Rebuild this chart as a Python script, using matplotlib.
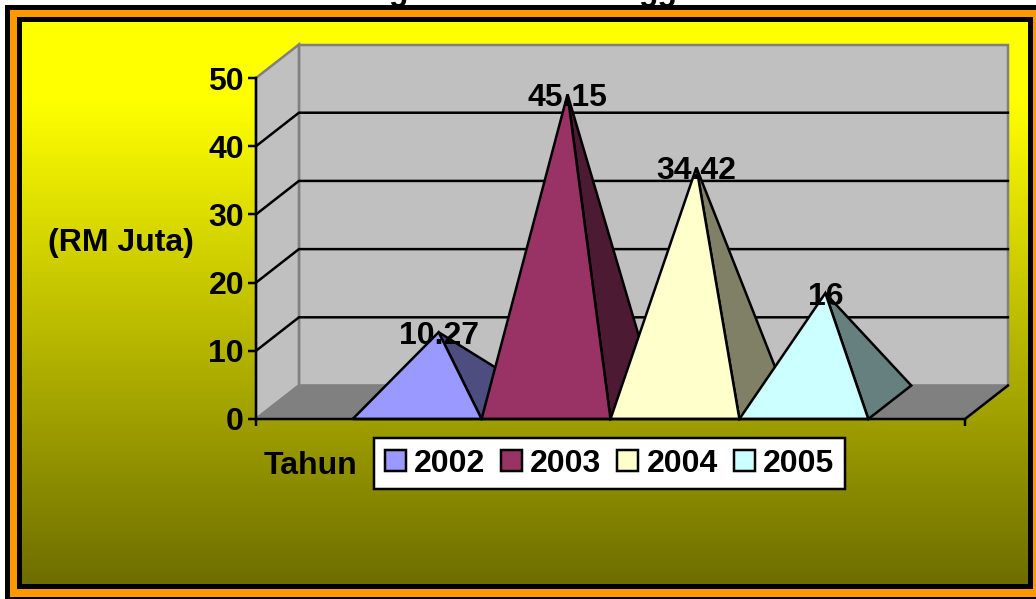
import numpy as np
import matplotlib
matplotlib.use("Agg")
import matplotlib.pyplot as plt
from matplotlib.colors import LinearSegmentedColormap
from matplotlib.patches import Patch, Polygon, Rectangle

years = ["2002", "2003", "2004", "2005"]
values = [10.27, 45.15, 34.42, 16]
value_labels = ["10.27", "45.15", "34.42", "16"]
front_colors = ["#9999FF", "#993366", "#FFFFCC", "#CCFFFF"]
side_colors = ["#4D4D80", "#4D1A33", "#808066", "#668080"]
y_ticks = [0, 10, 20, 30, 40, 50]

W, H = 1036, 599
PX = 1 / 100 * 72  # one pixel in points
FS = 32 * PX
LW = 2.5 * PX
DX, DY = 0.333, 4.91  # 3D depth in data units
XMIN, XMAX, YMAX = -1.25, 4.25, 50

plt.rcParams["font.family"] = ["Liberation Sans", "DejaVu Sans"]
plt.rcParams["font.weight"] = "bold"
fig = plt.figure(figsize=(W / 100, H / 100), dpi=100, facecolor="white")

# background: frame, gradient
bg = fig.add_axes([0, 0, 1, 1], zorder=0)
bg.set_xlim(0, W)
bg.set_ylim(H, 0)
bg.axis("off")
cmap = LinearSegmentedColormap.from_list(
    "bg", [(0, "#FFFF00"), (80 / 584, "#FFFF00"), (1, "#6E6E00")])
grad = np.linspace(0, 1, 584)[:, None]
bg.imshow(grad, cmap=cmap, extent=(22, 1028, 584, 22), aspect="auto", zorder=1)
bg.set_xlim(0, W)
bg.set_ylim(H, 0)
bg.text(398, 0, "g", fontsize=FS, fontweight="bold", ha="center", va="baseline", zorder=0)
bg.text(658, 0, "gg", fontsize=FS, fontweight="bold", ha="center", va="baseline", zorder=0)
for (x0, y0, x1, y1, c) in [(5, 5, 1040, 602, "black"), (10, 10, 1040, 597, "#FF9900"),
                            (17, 17, 1033, 589, "black")]:
    bg.add_patch(Rectangle((x0, y0), x1 - x0, y1 - y0, fc=c, ec="none", zorder=0.5))

# plot
ax = fig.add_axes([256 / W, (H - 419) / H, 709 / W, 341 / H], zorder=1)
ax.patch.set_visible(False)
ax.set_xlim(XMIN, XMAX)
ax.set_ylim(0, YMAX)
for s in ("top", "right"):
    ax.spines[s].set_visible(False)
for s in ("left", "bottom"):
    ax.spines[s].set_linewidth(LW)
    ax.spines[s].set_zorder(20)

wall_kw = dict(clip_on=False, ec="#808080", lw=LW, joinstyle="miter")
ax.add_patch(Polygon([(XMIN + DX, DY), (XMAX + DX, DY), (XMAX + DX, YMAX + DY), (XMIN + DX, YMAX + DY)],
                     fc="#C0C0C0", zorder=1, **wall_kw))
ax.add_patch(Polygon([(XMIN, 0), (XMIN + DX, DY), (XMIN + DX, YMAX + DY), (XMIN, YMAX)],
                     fc="#C0C0C0", zorder=1, **wall_kw))
ax.add_patch(Polygon([(XMIN, 0), (XMAX, 0), (XMAX + DX, DY), (XMIN + DX, DY)],
                     fc="#808080", zorder=1, **wall_kw))
ax.plot([XMAX, XMAX + DX], [0, DY], color="black", lw=LW, clip_on=False, zorder=2)
for t in y_ticks[1:-1]:
    ax.plot([XMIN, XMIN + DX, XMAX + DX], [t, t + DY, t + DY], color="black", lw=LW,
            clip_on=False, zorder=2, solid_joinstyle="miter")

for i, (v, lab) in enumerate(zip(values, value_labels)):
    left, right = i - 0.5, i + 0.5
    apex = (i + DX / 2, v + DY / 2)
    z = 5 + i
    ax.add_patch(Polygon([(right, 0), (right + DX, DY), apex], fc=side_colors[i], ec="black",
                         lw=LW, clip_on=False, zorder=z, joinstyle="miter"))
    ax.add_patch(Polygon([(left, 0), (right, 0), apex], fc=front_colors[i], ec="black",
                         lw=LW, clip_on=False, zorder=z + 0.1, joinstyle="miter"))
    ax.text(apex[0], apex[1], lab, fontsize=FS, fontweight="bold", ha="center",
            va="center_baseline", zorder=15, color="black")

ax.set_yticks(y_ticks)
ax.set_xticks([XMIN, XMAX])
ax.set_xticklabels([])
ax.tick_params(axis="y", length=8 * PX, width=LW, labelsize=FS, pad=4 * PX)
ax.tick_params(axis="x", length=7 * PX, width=LW)
for lab in ax.get_yticklabels():
    lab.set_fontweight("bold")
    lab.set_va("center_baseline")

ax.set_ylabel("(RM Juta)", fontsize=FS, fontweight="bold", rotation=0, ha="center", va="center_baseline")
ax.yaxis.set_label_coords((121 - 256) / 709, (419 - 240) / 341)
ax.set_xlabel("Tahun", fontsize=FS, fontweight="bold", ha="center", va="center_baseline")
ax.xaxis.set_label_coords((310 - 256) / 709, (419 - 463) / 341)

handles = [Patch(fc=c, ec="black", lw=LW, label=y) for c, y in zip(front_colors, years)]
leg = fig.legend(handles=handles, ncol=4, loc="upper left",
                 bbox_to_anchor=(374 / W, 1 - 438 / H), borderaxespad=0,
                 prop=dict(family="Liberation Sans", weight="bold", size=FS),
                 handlelength=0.66, handleheight=0.66, handletextpad=0.25, columnspacing=0.5,
                 borderpad=0.33, fancybox=False, framealpha=1, facecolor="white", edgecolor="black")
leg.get_frame().set_linewidth(LW)
leg.set_zorder(30)

fig.savefig("out.png", dpi=100)
